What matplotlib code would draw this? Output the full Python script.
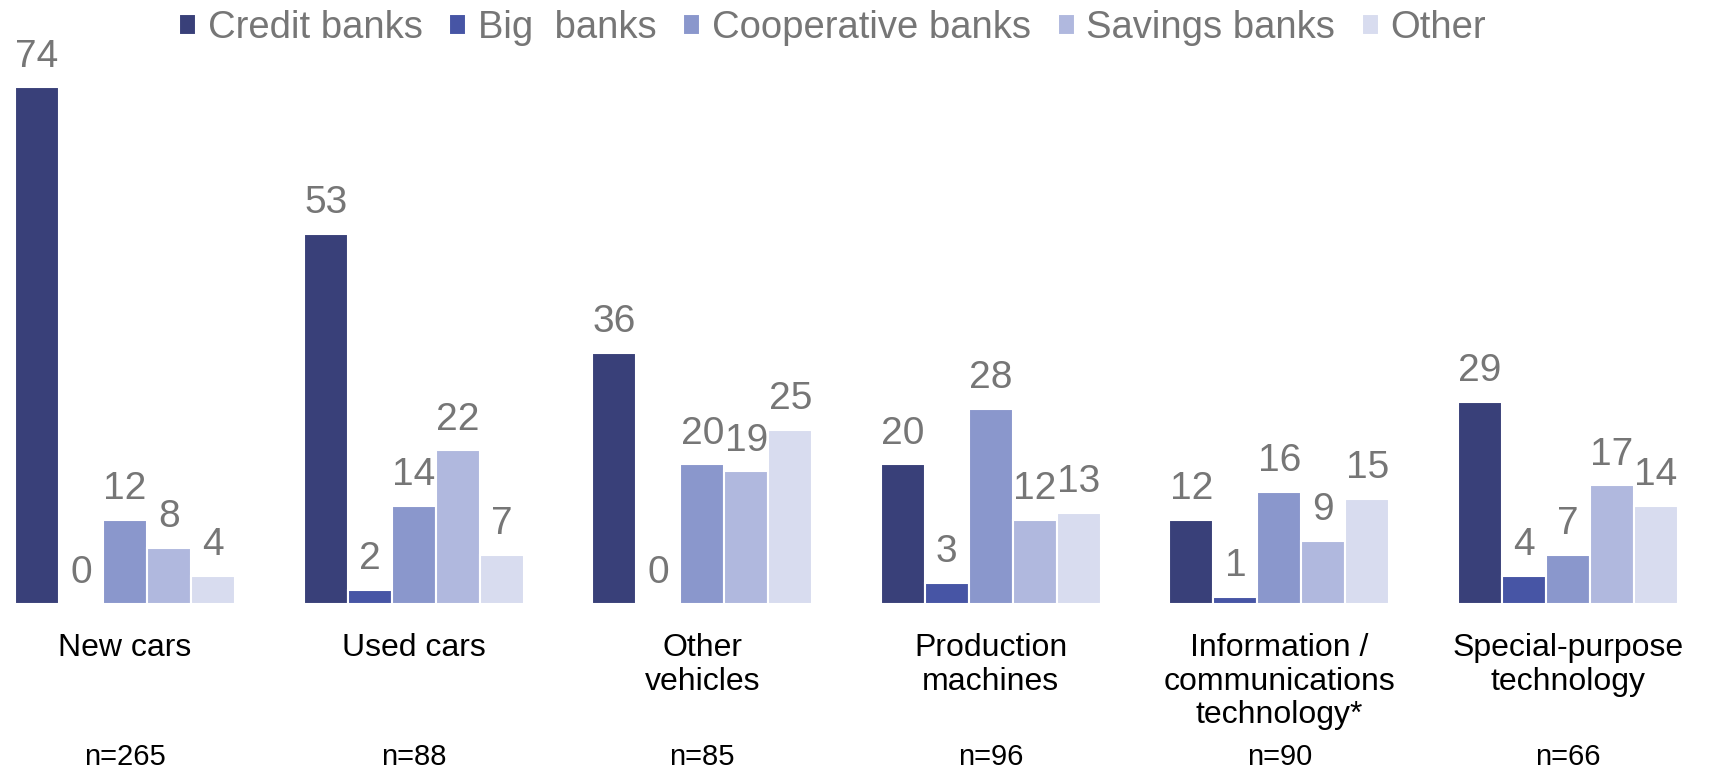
import matplotlib
matplotlib.use('Agg')
import matplotlib.pyplot as plt
import numpy as np

categories = ["New cars", "Used cars", "Other\nvehicles", "Production\nmachines",
              "Information /\ncommunications\ntechnology*", "Special-purpose\ntechnology"]
sample_sizes = ["n=265", "n=88", "n=85", "n=96", "n=90", "n=66"]
series_names = ["Credit banks", "Big  banks", "Cooperative banks", "Savings banks", "Other"]
credit_banks = [74, 53, 36, 20, 12, 29]
big_banks = [0, 2, 0, 3, 1, 4]
cooperative_banks = [12, 14, 20, 28, 16, 7]
savings_banks = [8, 22, 19, 12, 9, 17]
other = [4, 7, 25, 13, 15, 14]
colors = ["#394079", "#4755a5", "#8a97cc", "#b0b8de", "#d8dcef"]

plt.rcParams['font.family'] = ['Liberation Sans', 'DejaVu Sans']

W, H = 1715, 768
fig = plt.figure(figsize=(W / 100, H / 100), dpi=100)
base_px = 604
ax = fig.add_axes([0, (H - base_px) / H, 1, base_px / H])
px_per_unit = 6.98
ax.set_ylim(0, base_px / px_per_unit)
spacing = 288.6
c0 = 125
ax.set_xlim(-c0 / spacing, (W - c0) / spacing)
slot = 44 / spacing
x = np.arange(len(categories))
series = [credit_banks, big_banks, cooperative_banks, savings_banks, other]
handles = []
for i, (name, vals, col) in enumerate(zip(series_names, series, colors)):
    pos = x + (i - 2) * slot
    bars = ax.bar(pos, vals, width=slot, color=col, edgecolor='white',
                  linewidth=1.5, label=name)
    handles.append(bars)
    for xi, v in zip(pos, vals):
        ax.annotate(str(v), (xi, v), xytext=(0, 15), textcoords='offset points',
                    ha='center', va='baseline', fontsize=28, color='#767676')
ax.axis('off')

for i, (cat, n) in enumerate(zip(categories, sample_sizes)):
    xf = (c0 + i * spacing) / W
    fig.text(xf, (H - 633) / H, cat, ha='center', va='top', fontsize=23,
             color='black', linespacing=1.16)
    fig.text(xf, (H - 765) / H, n, ha='center', va='baseline', fontsize=21,
             color='black')

fig.legend(handles=handles, labels=series_names, ncol=5, loc='upper center',
           bbox_to_anchor=(0.4854, 0.992), frameon=False, fontsize=27.5,
           handlelength=0.45, handleheight=0.45, handletextpad=0.3,
           columnspacing=0.7, labelcolor='#767676', borderaxespad=0,
           borderpad=0.1)

fig.savefig('out.png', dpi=100)
